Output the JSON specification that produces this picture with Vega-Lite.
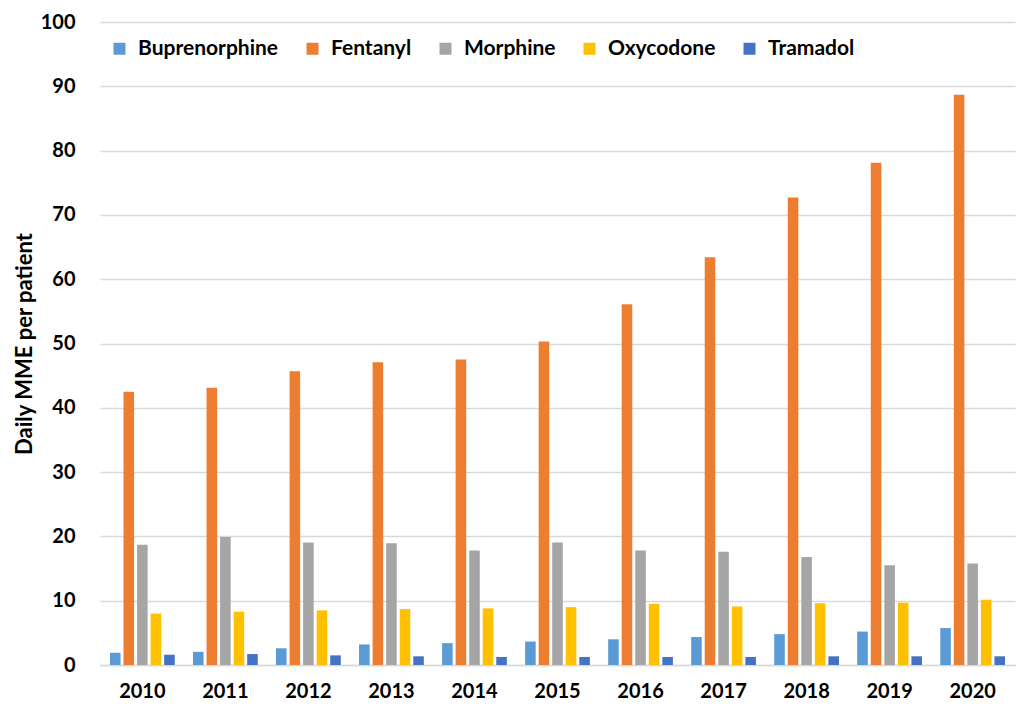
{
  "$schema": "https://vega.github.io/schema/vega-lite/v6.json",
  "width": 915,
  "height": 643,
  "autosize": {"type": "none"},
  "padding": {"left": 100, "top": 22, "right": 2, "bottom": 42},
  "background": "white",
  "config": {
    "font": "Lato",
    "view": {"stroke": null}
  },
  "data": {
    "values": [
      {"year": "2010", "drug": "Buprenorphine", "mme": 1.9},
      {"year": "2010", "drug": "Fentanyl", "mme": 42.5},
      {"year": "2010", "drug": "Morphine", "mme": 18.7},
      {"year": "2010", "drug": "Oxycodone", "mme": 8.0},
      {"year": "2010", "drug": "Tramadol", "mme": 1.6},
      {"year": "2011", "drug": "Buprenorphine", "mme": 2.05},
      {"year": "2011", "drug": "Fentanyl", "mme": 43.1},
      {"year": "2011", "drug": "Morphine", "mme": 19.9},
      {"year": "2011", "drug": "Oxycodone", "mme": 8.3},
      {"year": "2011", "drug": "Tramadol", "mme": 1.7},
      {"year": "2012", "drug": "Buprenorphine", "mme": 2.6},
      {"year": "2012", "drug": "Fentanyl", "mme": 45.7},
      {"year": "2012", "drug": "Morphine", "mme": 19.05},
      {"year": "2012", "drug": "Oxycodone", "mme": 8.5},
      {"year": "2012", "drug": "Tramadol", "mme": 1.5},
      {"year": "2013", "drug": "Buprenorphine", "mme": 3.2},
      {"year": "2013", "drug": "Fentanyl", "mme": 47.1},
      {"year": "2013", "drug": "Morphine", "mme": 18.95},
      {"year": "2013", "drug": "Oxycodone", "mme": 8.7},
      {"year": "2013", "drug": "Tramadol", "mme": 1.35},
      {"year": "2014", "drug": "Buprenorphine", "mme": 3.4},
      {"year": "2014", "drug": "Fentanyl", "mme": 47.5},
      {"year": "2014", "drug": "Morphine", "mme": 17.8},
      {"year": "2014", "drug": "Oxycodone", "mme": 8.8},
      {"year": "2014", "drug": "Tramadol", "mme": 1.25},
      {"year": "2015", "drug": "Buprenorphine", "mme": 3.65},
      {"year": "2015", "drug": "Fentanyl", "mme": 50.3},
      {"year": "2015", "drug": "Morphine", "mme": 19.05},
      {"year": "2015", "drug": "Oxycodone", "mme": 9.0},
      {"year": "2015", "drug": "Tramadol", "mme": 1.25},
      {"year": "2016", "drug": "Buprenorphine", "mme": 4.0},
      {"year": "2016", "drug": "Fentanyl", "mme": 56.1},
      {"year": "2016", "drug": "Morphine", "mme": 17.8},
      {"year": "2016", "drug": "Oxycodone", "mme": 9.5},
      {"year": "2016", "drug": "Tramadol", "mme": 1.25},
      {"year": "2017", "drug": "Buprenorphine", "mme": 4.35},
      {"year": "2017", "drug": "Fentanyl", "mme": 63.4},
      {"year": "2017", "drug": "Morphine", "mme": 17.6},
      {"year": "2017", "drug": "Oxycodone", "mme": 9.1},
      {"year": "2017", "drug": "Tramadol", "mme": 1.25},
      {"year": "2018", "drug": "Buprenorphine", "mme": 4.8},
      {"year": "2018", "drug": "Fentanyl", "mme": 72.7},
      {"year": "2018", "drug": "Morphine", "mme": 16.8},
      {"year": "2018", "drug": "Oxycodone", "mme": 9.6},
      {"year": "2018", "drug": "Tramadol", "mme": 1.35},
      {"year": "2019", "drug": "Buprenorphine", "mme": 5.2},
      {"year": "2019", "drug": "Fentanyl", "mme": 78.1},
      {"year": "2019", "drug": "Morphine", "mme": 15.5},
      {"year": "2019", "drug": "Oxycodone", "mme": 9.7},
      {"year": "2019", "drug": "Tramadol", "mme": 1.35},
      {"year": "2020", "drug": "Buprenorphine", "mme": 5.75},
      {"year": "2020", "drug": "Fentanyl", "mme": 88.7},
      {"year": "2020", "drug": "Morphine", "mme": 15.8},
      {"year": "2020", "drug": "Oxycodone", "mme": 10.15},
      {"year": "2020", "drug": "Tramadol", "mme": 1.35}
    ]
  },
  "mark": {"type": "bar"},
  "encoding": {
    "x": {
      "field": "year",
      "type": "nominal",
      "scale": {"paddingInner": 0.22, "paddingOuter": 0.12},
      "axis": {
        "title": null,
        "labelAngle": 0,
        "labelFont": "Lato",
        "labelFontWeight": "bold",
        "labelFontSize": 20,
        "labelColor": "#000000",
        "labelPadding": 16,
        "ticks": false,
        "domainColor": "#D9D9D9",
        "domainWidth": 1.5
      }
    },
    "xOffset": {
      "field": "drug",
      "type": "nominal",
      "scale": {"paddingInner": 0.22, "paddingOuter": 0}
    },
    "y": {
      "field": "mme",
      "type": "quantitative",
      "scale": {"domain": [0, 100], "nice": false},
      "axis": {
        "title": "Daily MME per patient",
        "titleFont": "Lato",
        "titleFontWeight": "bold",
        "titleFontSize": 22,
        "titleColor": "#000000",
        "titleX": -64,
        "values": [0, 10, 20, 30, 40, 50, 60, 70, 80, 90, 100],
        "labelFont": "Lato",
        "labelFontWeight": "bold",
        "labelFontSize": 20,
        "labelColor": "#000000",
        "labelPadding": 25,
        "ticks": false,
        "domain": false,
        "grid": true,
        "gridColor": "#D9D9D9",
        "gridWidth": 1.5
      }
    },
    "color": {
      "field": "drug",
      "type": "nominal",
      "scale": {
        "domain": ["Buprenorphine", "Fentanyl", "Morphine", "Oxycodone", "Tramadol"],
        "range": ["#5B9BD5", "#ED7D31", "#A5A5A5", "#FFC000", "#4472C4"]
      },
      "legend": {
        "title": null,
        "orient": "none",
        "legendX": 9,
        "legendY": 16,
        "direction": "horizontal",
        "columns": 5,
        "symbolType": "square",
        "symbolSize": 144,
        "symbolStrokeWidth": 0,
        "labelFont": "Lato",
        "labelFontWeight": "bold",
        "labelFontSize": 21,
        "labelColor": "#000000",
        "labelOffset": 8,
        "columnPadding": 23,
        "labelLimit": 300
      }
    }
  }
}
